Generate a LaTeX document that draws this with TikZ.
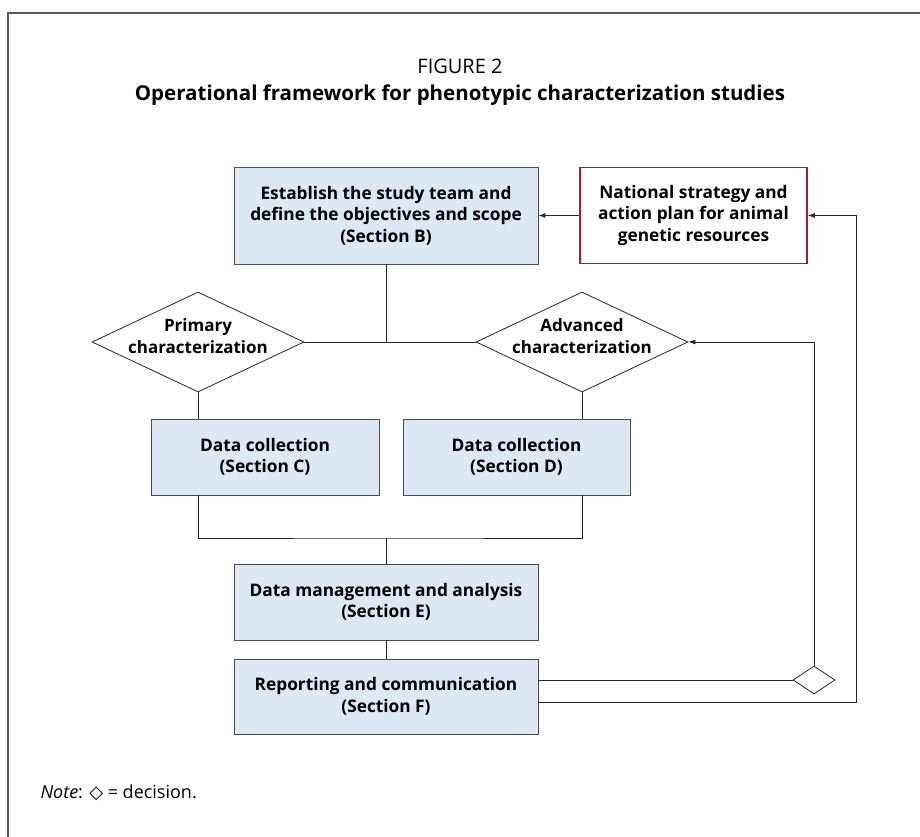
\documentclass[tikz,border=0pt]{standalone}
\usepackage{fontspec}
\setmainfont{Open Sans}
\newfontfamily\symfont{DejaVu Sans}
\usetikzlibrary{positioning,shapes.geometric,arrows.meta,calc}
\definecolor{boxfill}{HTML}{DCE8F3}
\definecolor{nsred}{HTML}{A6193E}
\definecolor{framegray}{HTML}{5A5A5A}

\tikzset{
  boxfont/.style={font=\fontsize{17.3}{21.5}\selectfont\bfseries},
  secbox/.style={draw=black!70,fill=boxfill,line width=0.9pt,align=center,inner sep=0pt,boxfont},
  stratbox/.style={draw=nsred,fill=white,line width=1.6pt,align=center,inner sep=0pt,boxfont},
  decision/.style={draw=black!85,fill=white,shape=diamond,inner sep=0pt,line width=0.8pt},
  dlabel/.style={align=center,inner sep=0pt,yshift=6pt,font=\fontsize{17}{21.5}\selectfont\bfseries},
  link/.style={draw=black!85,line width=0.8pt},
}

\begin{document}
\begin{tikzpicture}[x=1pt,y=-1pt,>={Latex[length=7pt,width=5pt]}]
    \useasboundingbox (0,0) rectangle (920,837);
    \clip (0,0) rectangle (920,837);
    % outer frame, cut by the page on the right and at the bottom
    \draw[framegray,line width=1.4pt] (8,13) rectangle (960,880);
    % heading
    \node (fig) at (460,66) {\fontsize{20}{24}\selectfont FIGURE 2};
    \node (title) at (460,95) {\fontsize{20.5}{24}\selectfont\bfseries Operational framework for phenotypic characterization studies};
    % boxes
    \node[secbox,minimum width=304pt,minimum height=97pt] (B) at (386,215.5)
        {Establish the study team and\\define the objectives and scope\\(Section B)};
    \node[stratbox,minimum width=227pt,minimum height=96pt] (nat) at (693.5,215.5)
        {National strategy and\\action plan for animal\\genetic resources};
    \node[decision,minimum width=212pt,minimum height=100pt] (prim) at (198,342) {};
    \node[dlabel] (primtxt) at (prim) {Primary\\characterization};
    \node[decision,minimum width=212pt,minimum height=100pt] (adv) at (582,342) {};
    \node[dlabel] (advtxt) at (adv) {Advanced\\characterization};
    \node[secbox,minimum width=228pt,minimum height=76pt] (C) at (265,457)
        {Data collection\\(Section C)};
    \node[secbox,minimum width=227pt,minimum height=76pt] (D) at (516.5,457)
        {Data collection\\(Section D)};
    \node[secbox,minimum width=304pt,minimum height=76pt] (E) at (386,602)
        {Data management and analysis\\(Section E)};
    \node[secbox,minimum width=304pt,minimum height=75pt] (F) at (386,696.5)
        {Reporting and communication\\(Section F)};
    \node[decision,minimum width=42pt,minimum height=28pt] (dec) at (814,680) {};
    \coordinate (jn) at (386,538);
    \coordinate (rim) at (856,702);
    % connectors
    \draw[link,->] (nat.west) -- (B.east);
    \draw[link] (prim.east) -- (adv.west);
    \draw[link] (B.south) -- (B.south |- prim.east);
    \draw[link] (prim.south) -- (prim.south |- C.north);
    \draw[link] (adv.south) -- (adv.south |- D.north);
    \draw[link] (C.south -| prim.south) |- (jn) -| (D.south -| adv.south);
    \draw[link] (jn) -- (E.north);
    \draw[link] (E.south) -- (F.north);
    \draw[link] (dec.west -| F.east) -- (dec.west);
    \draw[link,->] (dec.north) |- (adv.east);
    \draw[link,->] (rim -| F.east) -- (rim) |- (nat.east);
    % note
    \node[anchor=west] (note) at (37,793)
        {\fontsize{18}{21}\selectfont\textit{Note}: {\symfont ◇} = decision.};
\end{tikzpicture}
\end{document}
